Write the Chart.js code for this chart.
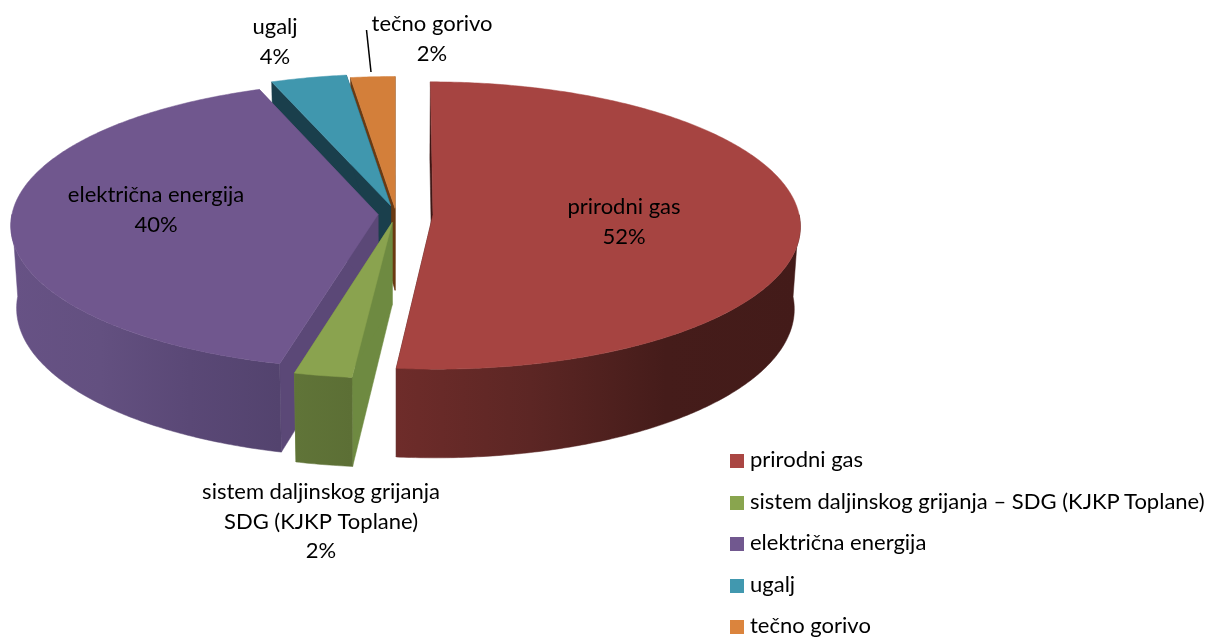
<!DOCTYPE html>
<html lang="bs">
  <head>
    <meta charset="utf-8" />
    <title>Potrosnja energije</title>
    <style>
      body { margin: 0; background: #fff; }
      .chartBox { position: relative; width: 1208px; height: 637px; overflow: hidden; }
      #legend { position: absolute; left: 730px; top: 438px; font: 22px Lato, sans-serif; color: #000; white-space: nowrap; }
      #legend div { height: 41.5px; line-height: 41.5px; }
      #legend i { display: inline-block; width: 14px; height: 14px; margin-right: 6px; vertical-align: -1px; }
    </style>
  </head>
  <body>
    <div class="chartBox">
      <canvas id="myChart" width="1208" height="637"></canvas>
      <div id="legend"></div>
    </div>
    <script src="https://cdn.jsdelivr.net/npm/chart.js"></script>
    <script>
      // data
      const categories = ['prirodni gas', 'sistem daljinskog grijanja – SDG (KJKP Toplane)', 'električna energija', 'ugalj', 'tečno gorivo'];
      const values = [51.6, 2.35, 40.35, 3.6, 2.1];
      const explode = [37, 22, 18, 22, 14];

      // colours
      const topColors = ['#A64441', '#8AA34F', '#70578E', '#4097AE', '#D37F3A'];
      const legendColors = ['#AA4643', '#89A54E', '#71588F', '#4198AF', '#DB843D'];
      const radialWall = ['#3d1715', '#6e8a41', '#5b4877', '#1a3f4c', '#6a3a12'];
      const rimWall = [
        ['#6e2c2a', '#5c2624', '#451c1a', '#431b19'],
        ['#607438', '#5c6f35'],
        ['#675285', '#635080', '#5a4876', '#53436e'],
        ['#1a3f4c', '#1a3f4c'],
        ['#6a3a12', '#6a3a12']
      ];

      // data label text, split the way the picture has it
      const labelLines = [['prirodni gas'], ['sistem daljinskog grijanja', 'SDG (KJKP Toplane)'], ['električna energija'], ['ugalj'], ['tečno gorivo']];
      const labelAt = [[624, 207], [321, 492], [156, 195], [275, 27], [432, 24]];

      // 3d look
      const tilt = 0.39;
      const persp = 0.075;
      const depth = 82;
      const shrink = 0.015;

      function project(o, u, v, z) {
        const w = 1 / (1 - persp * v / o.r);
        return [o.x + u * w * (1 - z * shrink), o.y + v * w * tilt + z * depth * w];
      }

      function poly(ctx, pts, fill) {
        ctx.beginPath();
        pts.forEach((p, i) => (i ? ctx.lineTo(p[0], p[1]) : ctx.moveTo(p[0], p[1])));
        ctx.closePath();
        ctx.fillStyle = fill;
        ctx.fill();
        ctx.strokeStyle = fill; // closes the hairline seams
        ctx.lineWidth = 0.5;
        ctx.stroke();
      }

      function arcPoints(o, dx, dy, a0, a1, z) {
        const n = Math.max(2, Math.ceil((a1 - a0) / 0.01));
        const pts = [];
        for (let i = 0; i <= n; i++) {
          const a = a0 + (a1 - a0) * i / n;
          pts.push(project(o, dx + o.r * Math.cos(a), dy + o.r * Math.sin(a), z));
        }
        return pts;
      }

      const pie3d = {
        id: 'pie3d',
        beforeDatasetDraw(chart, args) {
          const ctx = chart.ctx;
          const arcs = chart.getDatasetMeta(args.index).data;
          const order = arcs.map((el, i) => i).sort((a, b) => {
            const mid = el => (arcs[el].startAngle + arcs[el].endAngle) / 2;
            return Math.sin(mid(a)) - Math.sin(mid(b));
          });

          order.forEach(i => {
            const el = arcs[i];
            const o = { x: el.x, y: el.y, r: el.outerRadius };
            const a0 = el.startAngle;
            const a1 = el.endAngle;
            const mid = (a0 + a1) / 2;
            const dx = Math.cos(mid) * el.options.offset;
            const dy = Math.sin(mid) * el.options.offset;

            // radial walls
            [a0, a1].forEach(a => {
              const ex = dx + o.r * Math.cos(a);
              const ey = dy + o.r * Math.sin(a);
              poly(ctx, [project(o, dx, dy, 0), project(o, ex, ey, 0), project(o, ex, ey, 1), project(o, dx, dy, 1)], radialWall[i]);
            });

            // outer wall, only the part that faces the viewer
            const from = Math.max(a0, 0);
            const to = Math.min(a1, Math.PI);
            if (to > from) {
              const t = arcPoints(o, dx, dy, from, to, 0);
              const b = arcPoints(o, dx, dy, from, to, 1).reverse();
              const xs = t.map(p => p[0]);
              const g = ctx.createLinearGradient(Math.min(...xs), 0, Math.max(...xs), 0);
              const stops = rimWall[i];
              stops.forEach((c, k) => g.addColorStop(k / (stops.length - 1), c));
              poly(ctx, t.concat(b), g);
            }

            // top
            poly(ctx, [project(o, dx, dy, 0)].concat(arcPoints(o, dx, dy, a0, a1, 0)), topColors[i]);
          });

          // data labels
          ctx.font = '22px Lato, sans-serif';
          ctx.textAlign = 'center';
          ctx.textBaseline = 'middle';
          ctx.fillStyle = '#000';
          const total = values.reduce((s, v) => s + v, 0);
          labelLines.forEach((lines, i) => {
            const [x, y] = labelAt[i];
            lines.concat(Math.round(values[i] / total * 100) + '%').forEach((t, k) => {
              ctx.fillText(t, x, y + k * 29.5);
            });
          });

          // leader line for the small slice
          ctx.beginPath();
          ctx.moveTo(366.5, 30);
          ctx.lineTo(371, 72);
          ctx.strokeStyle = '#000';
          ctx.lineWidth = 1.5;
          ctx.stroke();

          return false; // faces are drawn above, skip the flat pie
        }
      };

      const myChart = new Chart(document.getElementById('myChart'), {
        type: 'pie',
        data: {
          labels: categories,
          datasets: [{
            data: values,
            backgroundColor: topColors,
            borderWidth: 0,
            offset: explode,
            radius: 366
          }]
        },
        options: {
          responsive: false,
          animation: false,
          layout: { padding: { right: 416, bottom: 209 } },
          plugins: { legend: { display: false }, tooltip: { enabled: false } }
        },
        plugins: [pie3d]
      });

      // legend
      const legend = document.getElementById('legend');
      categories.forEach((name, i) => {
        const row = document.createElement('div');
        const box = document.createElement('i');
        box.style.background = legendColors[i];
        row.appendChild(box);
        row.appendChild(document.createTextNode(name));
        legend.appendChild(row);
      });
    </script>
  </body>
</html>
